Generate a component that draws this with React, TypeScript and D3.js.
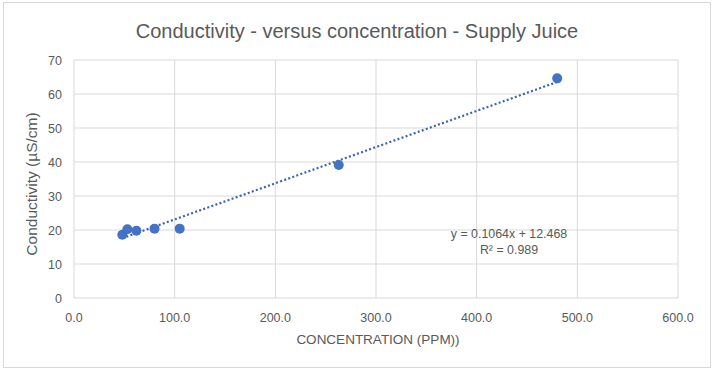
import React from "react";
import * as d3 from "d3";

const concentration = [48, 53, 62, 80, 105, 263, 480];
const conductivity = [18.6, 20.2, 19.8, 20.4, 20.4, 39.1, 64.6];
const xTicks = [0, 100, 200, 300, 400, 500, 600];
const yTicks = [0, 10, 20, 30, 40, 50, 60, 70];
const slope = 0.1064;
const intercept = 12.468;
const title = "Conductivity - versus concentration - Supply Juice";
const xTitle = "CONCENTRATION (PPM))";
const yTitle = "Conductivity (µS/cm)";
const eqText = "y = 0.1064x + 12.468";
const r2Text = "R² = 0.989";

export default function App() {
  const W = 714, H = 372;
  const x = d3.scaleLinear().domain([0, 600]).range([74, 678]);
  const y = d3.scaleLinear().domain([0, 70]).range([298, 60]);
  const font = "'Liberation Sans', Arial, sans-serif";
  const grey = "#595959";
  const xMin = d3.min(concentration)!;
  const xMax = d3.max(concentration)!;
  const trend = d3.line<number>().x((d) => x(d)).y((d) => y(slope * d + intercept));
  return (
    <svg width={W} height={H} style={{ position: "absolute", left: 0, top: 0 }}>
      <rect x={0} y={0} width={W} height={H} fill="#fff" />
      <rect x={3.5} y={2.5} width={707} height={365} fill="#fff" stroke="#d9d9d9" />
      <text x={357} y={38} textAnchor="middle" fontFamily={font} fontSize={20} fill={grey}>{title}</text>
      {yTicks.map((t) => (
        <g key={"y" + t}>
          <line x1={74} x2={678} y1={y(t)} y2={y(t)} stroke="#d9d9d9" strokeWidth={1} />
          <text x={62} y={y(t) + 4.5} textAnchor="end" fontFamily={font} fontSize={12.5} fill={grey}>{t}</text>
        </g>
      ))}
      {xTicks.map((t) => (
        <g key={"x" + t}>
          <line x1={x(t)} x2={x(t)} y1={60} y2={298} stroke="#d9d9d9" strokeWidth={1} />
          <text x={x(t)} y={322} textAnchor="middle" fontFamily={font} fontSize={12.5} fill={grey}>{t.toFixed(1)}</text>
        </g>
      ))}
      <text x={378} y={344} textAnchor="middle" fontFamily={font} fontSize={13.5} fill={grey}>{xTitle}</text>
      <text transform={`translate(37,184) rotate(-90)`} textAnchor="middle" fontFamily={font} fontSize={15.5} fill={grey}>{yTitle}</text>
      <path d={trend([xMin, xMax]) || ""} fill="none" stroke="#3b64ad" strokeWidth={2.2} strokeDasharray="2 2.3" />
      {concentration.map((c, i) => (
        <circle key={i} cx={x(c)} cy={y(conductivity[i])} r={5} fill="#4472c4" />
      ))}
      <text x={509} y={238} textAnchor="middle" fontFamily={font} fontSize={12.4} fill={grey}>{eqText}</text>
      <text x={509} y={254} textAnchor="middle" fontFamily={font} fontSize={12.4} fill={grey}>{r2Text}</text>
    </svg>
  );
}
